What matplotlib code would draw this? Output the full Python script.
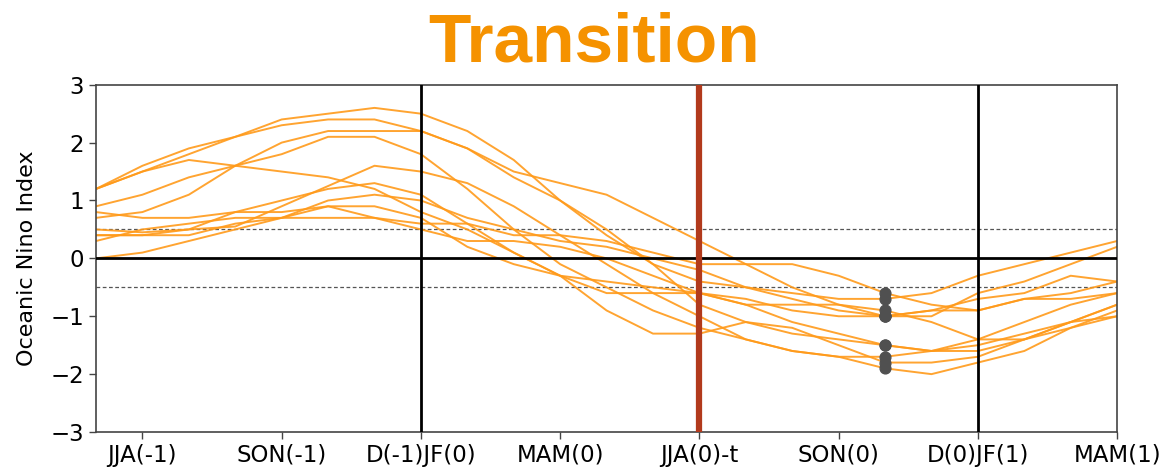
import matplotlib
matplotlib.use("Agg")
import matplotlib.pyplot as plt
import numpy as np

# Seasons: index -1 (MJJ(-1)) ... 21 (MAM(1)), monthly running seasons
months = list(range(-1, 22))
tick_pos = [0, 3, 6, 9, 12, 15, 18, 21]
tick_labels = ["JJA(-1)", "SON(-1)", "D(-1)JF(0)", "MAM(0)", "JJA(0)-t",
               "SON(0)", "D(0)JF(1)", "MAM(1)"]

# Oceanic Nino Index traces
oni_a = [1.2, 1.5, 1.8, 2.1, 2.4, 2.5, 2.6, 2.5, 2.2, 1.7, 1.0, 0.4, -0.1, -0.4, -0.5, -0.6, -0.7, -0.7, -0.6, -0.3, -0.1, 0.1, 0.3]
oni_b = [1.2, 1.6, 1.9, 2.1, 2.3, 2.4, 2.4, 2.2, 1.9, 1.4, 1.0, 0.5, -0.1, -0.8, -1.1, -1.3, -1.4, -1.5, -1.6, -1.5, -1.3, -1.1, -1.0]
oni_c = [0.7, 0.8, 1.1, 1.6, 2.0, 2.2, 2.2, 2.2, 1.9, 1.5, 1.3, 1.1, 0.7, 0.3, -0.1, -0.5, -0.8, -1.0, -0.9, -0.7, -0.6, -0.3, -0.4]
oni_d = [0.9, 1.1, 1.4, 1.6, 1.8, 2.1, 2.1, 1.8, 1.2, 0.5, -0.1, -0.5, -0.9, -1.2, -1.4, -1.6, -1.7, -1.9, -2.0, -1.8, -1.6, -1.2, -1.0]
oni_e = [1.2, 1.5, 1.7, 1.6, 1.5, 1.4, 1.2, 0.8, 0.5, 0.1, -0.3, -0.9, -1.3, -1.3, -1.1, -1.2, -1.5, -1.8, -1.8, -1.7, -1.4, -1.1, -0.8]
oni_f = [0.8, 0.7, 0.7, 0.8, 1.0, 1.2, 1.3, 1.1, 0.6, 0.1, -0.3, -0.6, -0.6, -0.6, -0.7, -0.9, -1.0, -1.0, -1.0, -0.6, -0.4, -0.1, 0.2]
oni_g = [0.4, 0.4, 0.4, 0.6, 0.7, 1.0, 1.1, 1.0, 0.7, 0.5, 0.3, 0.2, 0.0, -0.2, -0.5, -0.7, -0.9, -1.0, -0.9, -0.9, -0.7, -0.6, -0.4]
oni_h = [0.3, 0.5, 0.6, 0.7, 0.7, 0.7, 0.7, 0.6, 0.6, 0.4, 0.4, 0.3, 0.1, -0.1, -0.1, -0.1, -0.3, -0.6, -0.8, -0.9, -0.7, -0.7, -0.6]
oni_i = [0.0, 0.1, 0.3, 0.5, 0.7, 0.9, 0.9, 0.7, 0.2, -0.1, -0.3, -0.4, -0.5, -0.6, -0.8, -1.1, -1.3, -1.5, -1.6, -1.6, -1.4, -1.2, -0.9]
oni_j = [0.5, 0.45, 0.5, 0.55, 0.9, 1.25, 1.6, 1.5, 1.3, 0.9, 0.4, -0.1, -0.6, -1.0, -1.4, -1.6, -1.7, -1.7, -1.6, -1.4, -1.1, -0.8, -0.6]
oni_k = [0.4, 0.4, 0.5, 0.8, 0.8, 0.9, 0.7, 0.5, 0.3, 0.3, 0.2, 0.0, -0.3, -0.6, -0.8, -0.8, -0.8, -0.9, -1.1, -1.4, -1.4, -1.1, -0.8]
series = [oni_a, oni_b, oni_c, oni_d, oni_e, oni_f, oni_g, oni_h, oni_i, oni_j, oni_k]

dot_month = 16  # OND(0)

fig = plt.figure(figsize=(11.71, 4.76), dpi=100)
ax = fig.add_axes([0.082, 0.0924, 0.872, 0.7296])

line_color = "#FF9A1A"
for s in series:
    ax.plot(months, s, color=line_color, lw=1.4, alpha=0.9, zorder=2)

# reference lines
ax.axhline(0, color="black", lw=2, zorder=3)
ax.axhline(0.5, color="#555555", lw=0.9, ls=(0, (3, 2)), zorder=1)
ax.axhline(-0.5, color="#555555", lw=0.9, ls=(0, (3, 2)), zorder=1)
ax.axvline(6, color="black", lw=2, zorder=3)
ax.axvline(18, color="black", lw=2, zorder=3)
ax.axvline(12, color="#B23A1C", lw=4.5, zorder=4)

# dots at OND(0)
dot_vals = [s[months.index(dot_month)] for s in series]
ax.scatter([dot_month] * len(dot_vals), dot_vals, s=60, color="#505050", zorder=5)

ax.set_xlim(-1, 21)
ax.set_ylim(-3, 3)
ax.set_xticks(tick_pos)
ax.set_xticklabels(tick_labels)
ax.set_yticks([-3, -2, -1, 0, 1, 2, 3])
ax.tick_params(labelsize=16.5, length=5, width=1, color="#444444")
ax.set_ylabel("Oceanic Nino Index", fontsize=16, labelpad=10)
for sp in ax.spines.values():
    sp.set_color("#444444")
    sp.set_linewidth(1.2)

fig.text(0.507, 0.87, "Transition", ha="center", va="baseline",
         fontsize=50, fontweight="bold", color="#F59200",
         family=["Liberation Sans", "DejaVu Sans"])

fig.savefig("out.png", dpi=100)
